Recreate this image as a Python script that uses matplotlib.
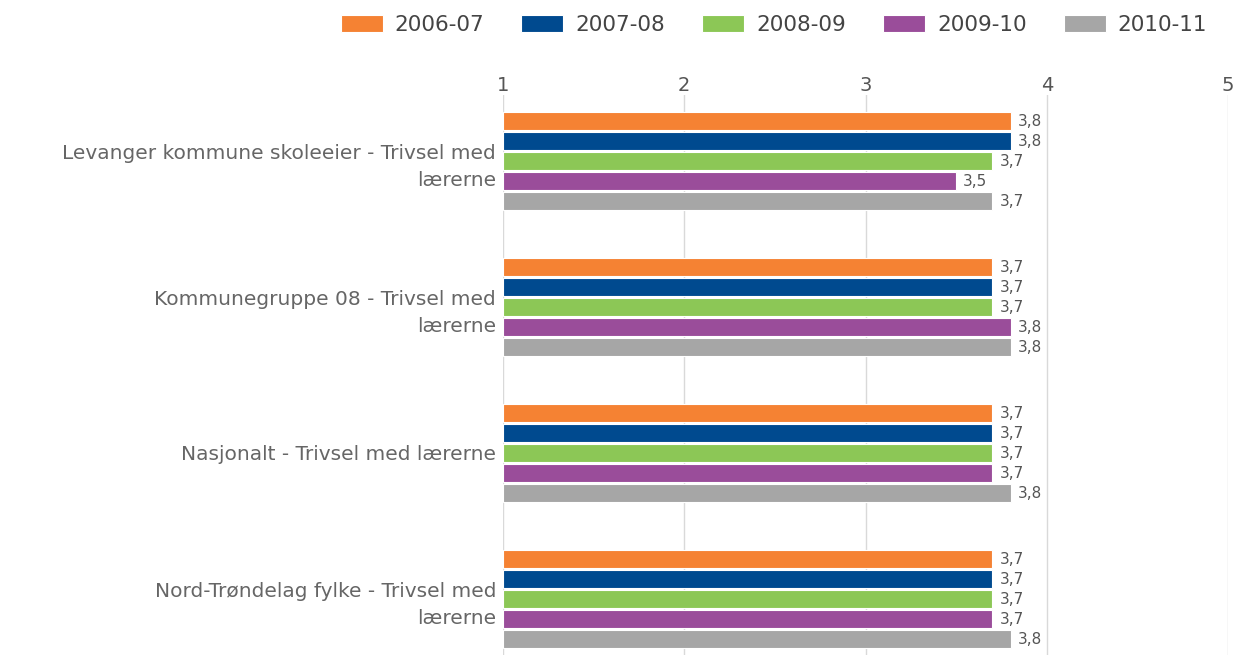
# Trivsel med lærerne - liggende stolper per skoleår

import numpy as np
import matplotlib.pyplot as plt

plt.rcParams['font.family'] = ['DejaVu Sans']

kategorier = ["Levanger kommune skoleeier - Trivsel med\nlærerne",
              "Kommunegruppe 08 - Trivsel med\nlærerne",
              "Nasjonalt - Trivsel med lærerne",
              "Nord-Trøndelag fylke - Trivsel med\nlærerne"]
aar = ["2006-07", "2007-08", "2008-09", "2009-10", "2010-11"]
v0607 = [3.8, 3.7, 3.7, 3.7]
v0708 = [3.8, 3.7, 3.7, 3.7]
v0809 = [3.7, 3.7, 3.7, 3.7]
v0910 = [3.5, 3.8, 3.7, 3.7]
v1011 = [3.7, 3.8, 3.8, 3.8]
serier = [v0607, v0708, v0809, v0910, v1011]
farger = ['#F58233', '#004A8F', '#8CC756', '#9A4D9A', '#A6A6A6']

fig = plt.figure(figsize=(12.35, 6.55), dpi=100)
ax = fig.add_axes([503/1235, 0, 725/1235, 1 - 95/655])

y = np.arange(len(kategorier))
steg = 20/146
hoyde = 18/146
for i, (vals, navn, c) in enumerate(zip(serier, aar, farger)):
    pos = y + (i - 2)*steg
    vals = np.array(vals)
    ax.barh(pos, vals - 1, left=1, height=hoyde, color=c, edgecolor='white',
            linewidth=0.8, label=navn, zorder=2)
    for p, v in zip(pos, vals):
        ax.annotate('{:.1f}'.format(v).replace('.', ','), xy=(v, p),
                    xytext=(5, 0), textcoords='offset points', va='center',
                    ha='left', fontsize=11, color='#555555', zorder=3,
                    bbox=dict(boxstyle='square,pad=0.1', fc='white', ec='none'))

ax.set_xlim(1, 5)
ax.set_ylim(3 + (655-599)/146, -(161-95)/146)
ax.xaxis.tick_top()
ax.set_xticks([1, 2, 3, 4, 5])
ax.tick_params(axis='x', length=0, pad=0, labelsize=14, labelcolor='#555555')
ax.set_yticks(y)
ax.set_yticklabels(kategorier, linespacing=1.5)
ax.tick_params(axis='y', length=0, pad=5, labelsize=14.5, labelcolor='#666666')
ax.grid(axis='x', color='#d9d9d9', linewidth=1, zorder=0)
ax.set_axisbelow(True)
for s in ax.spines.values():
    s.set_visible(False)

fig.legend(loc='center', bbox_to_anchor=(774/1235, 1 - 25/655), ncol=5, frameon=False,
           fontsize=15.5, labelcolor='#444444', handlelength=1.95, handleheight=0.84,
           columnspacing=1.72, handletextpad=0.56, borderpad=0, borderaxespad=0)

plt.savefig('out.png')
